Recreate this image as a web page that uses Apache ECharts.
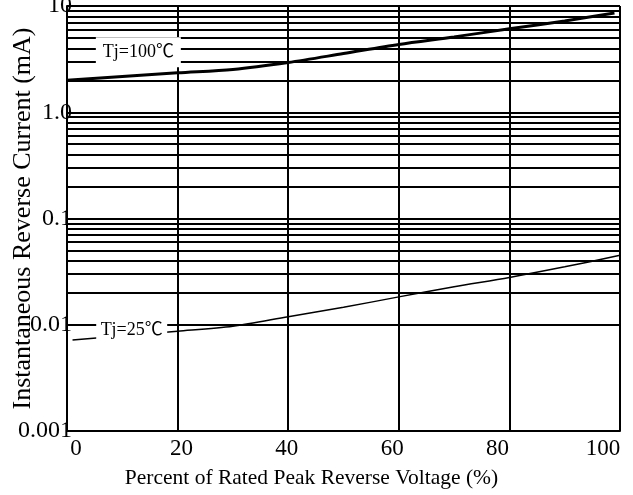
<!DOCTYPE html>
<html>
<head>
<meta charset="utf-8">
<script src="https://cdn.jsdelivr.net/npm/echarts@6/dist/echarts.min.js"></script>
<style>html,body{margin:0;padding:0;background:#fff}#c{width:633px;height:495px}</style>
</head>
<body>
<div id="c"></div>
<script>
// Data (x = % of rated peak reverse voltage, y = mA)
const xTicks = [0, 20, 40, 60, 80, 100];
const yTickLabels = {"10": "10", "1": "1.0", "0.1": "0.1", "0.01": "0.01", "0.001": "0.001"};
const t100X = [0, 20, 30, 40, 50, 60, 70, 80, 90, 99];
const t100Y = [2.0, 2.35, 2.53, 2.94, 3.57, 4.35, 5.12, 6.1, 7.24, 8.6];
const t25X = [1, 20, 30, 40, 50, 60, 70, 80, 90, 100];
const t25Y = [0.0072, 0.0087, 0.0097, 0.0119, 0.0146, 0.0183, 0.0228, 0.0279, 0.0351, 0.045];
const label100 = {text: "Tj=100\u2103", x: 12.9, y: 3.67};
const label25 = {text: "Tj=25\u2103", x: 11.7, y: 0.0089};

const decades = [0.001, 0.01, 0.1, 1];
const minorVals = [];
decades.forEach(d => { for (let k = 2; k <= 9; k++) minorVals.push(+(d * k).toPrecision(3)); });

const FONT = "'Liberation Serif','Times New Roman',serif";
const LFONT = "'Liberation Serif','Noto Sans CJK SC',serif";
const chart = echarts.init(document.getElementById('c'), null, {renderer: 'canvas'});
const lineW = 2;

chart.setOption({
  animation: false,
  backgroundColor: '#fff',
  grid: [
    {left: 67, right: 13, top: 6, bottom: 64, containLabel: false, outerBoundsMode: 'none'},
    {left: 76, right: 30, top: 6, bottom: 64, containLabel: false, outerBoundsMode: 'none'}
  ],
  xAxis: [
    {
      type: 'value', gridIndex: 0, min: 0, max: 100, interval: 20,
      axisLine: {show: true, onZero: false, lineStyle: {color: '#000', width: lineW}},
      axisTick: {show: false},
      axisLabel: {show: false},
      splitLine: {show: true, lineStyle: {color: '#000', width: lineW}}
    },
    {
      type: 'value', gridIndex: 1, min: 0, max: 100, interval: 20,
      axisLine: {show: false}, axisTick: {show: false},
      splitLine: {show: false},
      axisLabel: {show: true, color: '#000', fontFamily: FONT, fontSize: 23, margin: 6},
      name: 'Percent of Rated Peak Reverse Voltage (%)',
      nameLocation: 'middle', nameGap: 36, nameMoveOverlap: false,
      nameTextStyle: {color: '#000', fontFamily: FONT, fontSize: 21.5, padding: [0, 56, 0, 0]}
    }
  ],
  yAxis: [
    {
      type: 'log', gridIndex: 0, logBase: 10, min: 0.001, max: 10,
      axisLine: {show: true, lineStyle: {color: '#000', width: lineW}},
      axisTick: {show: false},
      axisLabel: {
        show: true, color: '#000', fontFamily: FONT, fontSize: 24, margin: -5, padding: [7, 0, 0, 0],
        formatter: v => yTickLabels[String(+v.toPrecision(3))] || ''
      },
      splitLine: {show: true, lineStyle: {color: '#000', width: lineW}},
      name: 'Instantaneous Reverse Current (mA)',
      nameLocation: 'middle', nameGap: 31, nameMoveOverlap: false,
      nameTextStyle: {color: '#000', fontFamily: FONT, fontSize: 26}
    },
    {
      type: 'log', gridIndex: 1, min: 0.001, max: 10, show: false
    }
  ],
  series: [
    {
      type: 'line', xAxisIndex: 0, yAxisIndex: 0, smooth: 0.3, symbol: 'none',
      data: t25X.map((x, i) => [x, t25Y[i]]),
      lineStyle: {color: '#000', width: 1.5}, z: 3,
      markLine: {
        silent: true, symbol: 'none', label: {show: false},
        lineStyle: {color: '#000', width: lineW, type: 'solid'},
        data: minorVals.map(v => ({yAxis: v})), z: 1
      },
      markPoint: {
        symbol: 'rect', symbolSize: [71, 24], silent: true, z: 10,
        itemStyle: {color: '#fff'},
        label: {show: true, position: 'inside', color: '#000', fontFamily: LFONT, fontSize: 18, formatter: label25.text},
        data: [{coord: [label25.x, label25.y]}]
      }
    },
    {
      type: 'line', xAxisIndex: 0, yAxisIndex: 0, smooth: 0.3, symbol: 'none',
      data: t100X.map((x, i) => [x, t100Y[i]]),
      lineStyle: {color: '#000', width: 3}, z: 3,
      markPoint: {
        symbol: 'rect', symbolSize: [85, 30], silent: true, z: 10,
        itemStyle: {color: '#fff'},
        label: {show: true, position: 'inside', color: '#000', fontFamily: LFONT, fontSize: 18, formatter: label100.text},
        data: [{coord: [label100.x, label100.y]}]
      }
    }
  ]
});
</script>
</body>
</html>
